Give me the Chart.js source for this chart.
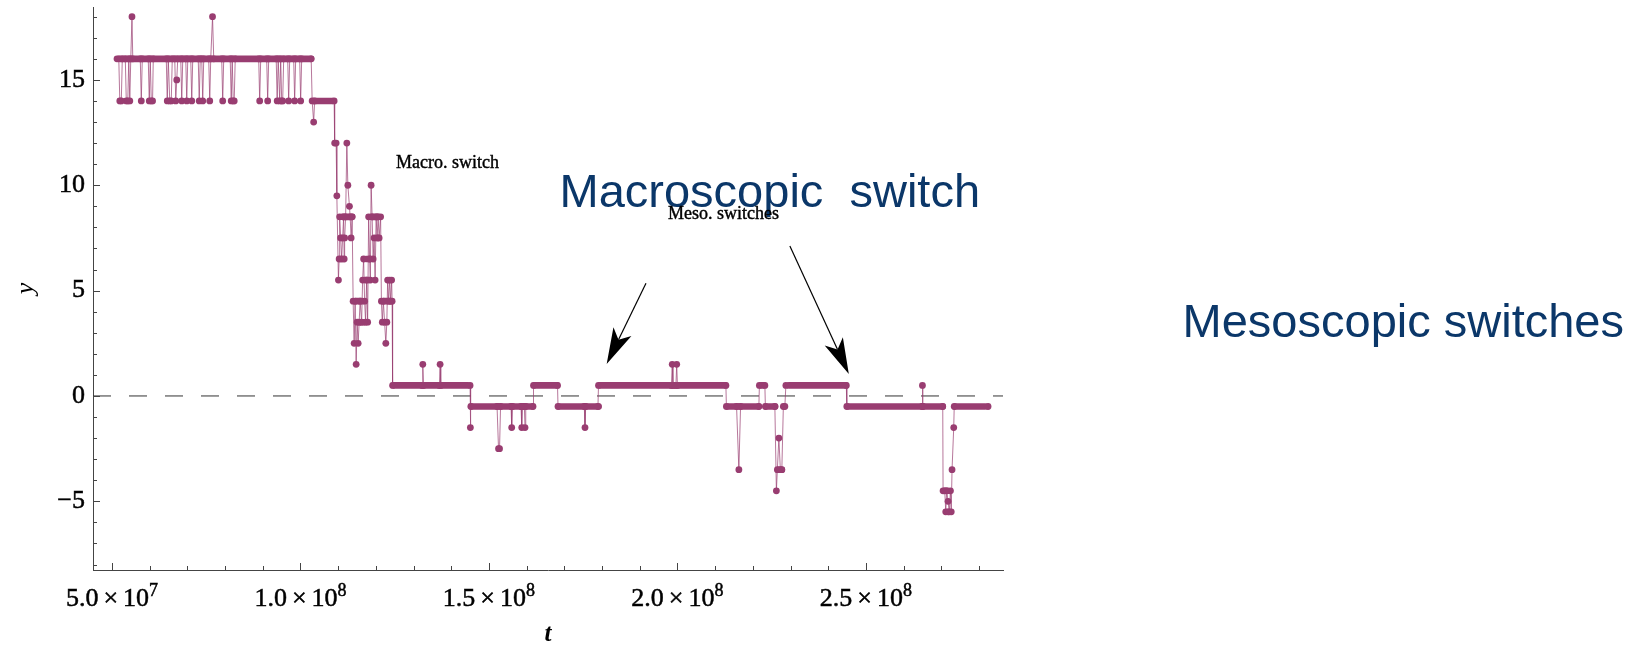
<!DOCTYPE html>
<html>
<head>
<meta charset="utf-8">
<script src="https://cdn.jsdelivr.net/npm/chart.js@4.4.1/dist/chart.umd.min.js"></script>
<style>
  html, body { margin: 0; padding: 0; background: #fff; }
  #wrap { width: 1646px; height: 647px; position: relative; }
</style>
</head>
<body>
<div id="wrap"><canvas id="chart"></canvas></div>
<script>
// trajectory, t in units of 10^6
const tMillions = [
  51.33, 51.80, 52.07, 52.47, 52.73, 53.53, 53.79, 54.19, 54.45, 54.72, 54.98, 55.30, 55.51,
  57.50, 57.77, 58.03, 59.62, 59.89, 60.15, 60.42, 60.76, 60.95, 64.40, 64.66, 64.93, 65.32,
  65.72, 65.99, 66.65, 66.91, 67.18, 67.44, 68.24, 68.50, 68.77, 69.57, 69.83, 70.10, 70.89,
  71.16, 71.42, 72.88, 73.14, 73.41, 73.81, 74.07, 74.34, 75.66, 75.93, 76.19, 76.67, 76.99,
  79.11, 79.37, 79.64, 81.36, 81.63, 81.89, 82.16, 82.42, 82.69, 88.92, 89.18, 89.45, 91.04,
  91.30, 91.57, 93.56, 93.82, 94.09, 94.49, 94.75, 95.02, 95.28, 95.55, 96.61, 96.87, 97.14,
  98.20, 98.46, 98.73, 99.79, 100.05, 100.32, 102.84, 103.10, 103.50, 103.76, 108.93, 109.07,
  109.46, 109.65, 110.07, 110.26, 110.39, 110.66, 110.92, 111.19, 111.45, 111.59, 111.72, 111.98,
  112.30, 112.57, 112.99, 113.18, 113.44, 113.71, 113.97, 114.24, 114.50, 114.77, 115.03, 115.30,
  115.56, 115.83, 116.22, 116.49, 116.75, 117.02, 117.28, 117.55, 117.82, 118.08, 118.35, 118.53,
  118.74, 119.01, 119.27, 119.54, 119.80, 120.07, 120.33, 120.60, 120.86, 121.26, 121.47, 121.71,
  121.98, 122.32, 122.64, 122.91, 123.12, 123.38, 123.65, 123.91, 124.18, 124.31, 124.44,
  132.26, 132.45, 132.63, 136.85, 137.04, 137.22, 144.99, 145.07, 145.20, 152.15, 152.54, 152.81,
  153.08, 155.86, 156.04, 156.23, 158.51, 158.70, 158.88, 159.39, 159.57, 159.76, 161.69, 161.82,
  168.19, 168.32, 175.29, 175.48, 175.66, 178.92, 179.06, 198.41, 198.62, 198.81, 199.60, 199.81,
  200.00, 212.86, 212.99, 215.69, 216.30, 216.75, 221.61, 221.74, 223.20, 223.33, 225.85, 226.25,
  226.51, 226.91, 227.31, 227.70, 228.10, 228.50, 228.77, 244.80, 244.94, 264.90, 265.00, 265.14,
  270.39, 270.47, 270.92, 271.18, 271.45, 271.79, 272.11, 272.43, 272.64, 272.85, 273.30, 273.43,
  282.40
];
const yValues = [
  16, 16, 14, 14, 16, 16, 14, 14, 16, 14, 16, 18, 16,
  16, 14, 16, 16, 14, 16, 14, 14, 16, 16, 14, 16, 14,
  14, 16, 16, 14, 15, 16, 16, 14, 16, 16, 14, 16, 16,
  14, 16, 16, 14, 16, 16, 14, 16, 16, 14, 16, 18, 16,
  16, 14, 16, 16, 14, 16, 14, 14, 16, 16, 14, 16, 16,
  14, 16, 16, 14, 16, 14, 16, 14, 14, 16, 16, 14, 16,
  16, 14, 16, 16, 14, 16, 16, 14, 13, 14, 14, 12,
  12, 9.5, 5.5, 6.5, 8.5, 7.5, 6.5, 7.5, 8.5, 6.5, 7.5, 8.5,
  12, 10, 9, 8.5, 7.5, 8.5, 4.5, 2.5, 4.5, 1.5, 3.5, 2.5,
  3.5, 4.5, 3.5, 5.5, 6.5, 4.5, 3.5, 5.5, 3.5, 8.5, 6.5, 5.5,
  10, 8.5, 6.5, 7.5, 5.5, 8.5, 7.5, 8.5, 7.5, 8.5, 4.5, 3.5,
  4.5, 3.5, 2.5, 3.5, 5.5, 4.5, 5.5, 4.5, 5.5, 4.5, 0.5,
  0.5, 1.5, 0.5, 0.5, 1.5, 0.5, 0.5, -1.5, -0.5, -0.5, -2.5, -2.5,
  -0.5, -0.5, -1.5, -0.5, -0.5, -1.5, -0.5, -0.5, -1.5, -0.5, -0.5, 0.5,
  0.5, -0.5, -0.5, -1.5, -0.5, -0.5, 0.5, 0.5, 1.5, 0.5, 0.5, 1.5,
  0.5, 0.5, -0.5, -0.5, -3.5, -0.5, -0.5, 0.5, 0.5, -0.5, -0.5, -4.5,
  -3.5, -2, -3.5, -3.5, -0.5, -0.5, 0.5, 0.5, -0.5, -0.5, 0.5, -0.5,
  -0.5, -4.5, -4.5, -5.5, -4.5, -5, -5.5, -4.5, -5.5, -3.5, -1.5, -0.5,
  -0.5
];

// stretches where the dots merge into a solid bar (start, end in 10^6, level)
const runStart = [52.13, 103.56, 111.14, 114.69, 115.75, 117.08, 117.50, 118.83, 120.34, 122.12,
  124.77, 145.44, 162.15, 168.77, 179.46, 213.39, 222.22, 223.54, 226.91, 229.56, 245.39, 273.76,
  271.08, 271.72];
const runEnd = [102.80, 108.53, 113.70, 116.35, 116.96, 118.13, 118.55, 120.52, 120.78, 123.85,
  144.37, 161.42, 168.05, 179.10, 212.67, 221.52, 222.85, 225.92, 227.70, 244.66, 270.38, 281.59,
  271.63, 271.90];
const runLevel = [16, 14, 8.5, 4.5, 3.5, 5.5, 6.5, 8.5, 7.5, 4.5,
  0.5, -0.5, 0.5, -0.5, 0.5, -0.5, 0.5, -0.5, -3.5, 0.5, -0.5, -0.5,
  -4.5, -5.5];

const xTicks = [50, 60, 70, 80, 90, 100, 110, 120, 130, 140, 150, 160, 170, 180, 190, 200,
  210, 220, 230, 240, 250, 260, 270, 280];
const xLabelValues = [50, 100, 150, 200, 250];
const xLabelMantissa = ['5.0', '1.0', '1.5', '2.0', '2.5'];
const xLabelExponent = ['7', '8', '8', '8', '8'];
const yTicks = [-8, -7, -6, -5, -4, -3, -2, -1, 0, 1, 2, 3, 4, 5, 6, 7, 8, 9, 10, 11, 12, 13,
  14, 15, 16, 17, 18];
const yLabelValues = [-5, 0, 5, 10, 15];
const yLabels = ['\u22125', '0', '5', '10', '15'];

const tMin = 44.96, tMax = 286.37, yMin = -8.26, yMax = 18.46;

const notes = [
  { text: 'Macro. switch', t: 125.37, y: 10.84, font: '18px "Liberation Serif"', color: '#000', heavy: true },
  { text: 'Macroscopic  switch', t: 168.72, y: 8.97, font: '47px "Liberation Sans"', color: '#0b3769', heavy: false },
  { text: 'Meso. switches', t: 197.48, y: 8.40, font: '18px "Liberation Serif"', color: '#000', heavy: true },
  { text: 'Mesoscopic switches', t: 334.01, y: 2.81, font: '47px "Liberation Sans"', color: '#0b3769', heavy: false }
];
const arrowFrom = [[191.66, 5.35], [229.83, 7.12]];
const arrowTo = [[181.23, 1.52], [245.47, 1.04]];

const purple = '#993d71';

const trajectory = tMillions.map((t, i) => ({ x: t * 1e6, y: yValues[i] }));
const runPoints = [];
runStart.forEach((s, i) => {
  runPoints.push({ x: s * 1e6, y: runLevel[i] });
  runPoints.push({ x: runEnd[i] * 1e6, y: runLevel[i] });
  runPoints.push({ x: runEnd[i] * 1e6, y: null });
});
const zeroLine = [{ x: tMin * 1e6, y: 0 }, { x: tMax * 1e6, y: 0 }];

function heavyText(ctx, text, x, y) {
  ctx.fillText(text, x, y);
  ctx.strokeText(text, x, y);
}

const decorations = {
  id: 'decorations',
  afterDraw(chart) {
    const ctx = chart.ctx;
    const xs = chart.scales.x, ys = chart.scales.y;
    const area = chart.chartArea;
    ctx.save();

    // inward ticks
    ctx.strokeStyle = '#444';
    ctx.lineWidth = 1;
    xTicks.forEach(v => {
      const px = Math.round(xs.getPixelForValue(v * 1e6)) + 0.5;
      const len = v % 50 === 0 ? 7 : 4;
      ctx.beginPath();
      ctx.moveTo(px, area.bottom);
      ctx.lineTo(px, area.bottom - len);
      ctx.stroke();
    });
    yTicks.forEach(v => {
      const py = Math.round(ys.getPixelForValue(v)) + 0.5;
      const len = v % 5 === 0 ? 7 : 4;
      ctx.beginPath();
      ctx.moveTo(area.left, py);
      ctx.lineTo(area.left + len, py);
      ctx.stroke();
    });

    // x tick labels  a.b x 10^n
    ctx.fillStyle = '#000';
    ctx.strokeStyle = '#000';
    ctx.lineWidth = 0.5;
    ctx.textBaseline = 'alphabetic';
    ctx.textAlign = 'left';
    const base = area.bottom + 36;
    xLabelValues.forEach((v, i) => {
      const big = '26px "Liberation Serif"', small = '18px "Liberation Serif"';
      ctx.font = big;
      const wm = ctx.measureText(xLabelMantissa[i]).width;
      const wx = ctx.measureText('\u00d7').width;
      const wt = ctx.measureText('10').width;
      ctx.font = small;
      const we = ctx.measureText(xLabelExponent[i]).width;
      const gap = 5;
      const total = wm + gap + wx + gap + wt + we;
      let x = xs.getPixelForValue(v * 1e6) - total / 2;
      ctx.font = big;
      heavyText(ctx, xLabelMantissa[i], x, base); x += wm + gap;
      heavyText(ctx, '\u00d7', x, base); x += wx + gap;
      heavyText(ctx, '10', x, base); x += wt;
      ctx.font = small;
      heavyText(ctx, xLabelExponent[i], x, base - 10);
    });

    // annotations
    notes.forEach(n => {
      ctx.font = n.font;
      ctx.fillStyle = n.color;
      ctx.strokeStyle = n.color;
      ctx.lineWidth = 0.4;
      const px = xs.getPixelForValue(n.t * 1e6), py = ys.getPixelForValue(n.y);
      if (n.heavy) heavyText(ctx, n.text, px, py);
      else ctx.fillText(n.text, px, py);
    });

    ctx.strokeStyle = '#000';
    ctx.fillStyle = '#000';
    ctx.lineWidth = 1.2;
    arrowFrom.forEach((f, i) => {
      const x0 = xs.getPixelForValue(f[0] * 1e6), y0 = ys.getPixelForValue(f[1]);
      const x1 = xs.getPixelForValue(arrowTo[i][0] * 1e6), y1 = ys.getPixelForValue(arrowTo[i][1]);
      const a = Math.atan2(y1 - y0, x1 - x0);
      const ux = Math.cos(a), uy = Math.sin(a);
      const L = 36, W = 10, notch = 27;
      ctx.beginPath();
      ctx.moveTo(x0, y0);
      ctx.lineTo(x1 - ux * notch, y1 - uy * notch);
      ctx.stroke();
      ctx.beginPath();
      ctx.moveTo(x1, y1);
      ctx.lineTo(x1 - ux * L - uy * W, y1 - uy * L + ux * W);
      ctx.lineTo(x1 - ux * notch, y1 - uy * notch);
      ctx.lineTo(x1 - ux * L + uy * W, y1 - uy * L - ux * W);
      ctx.closePath();
      ctx.fill();
    });
    ctx.restore();
  }
};

Chart.defaults.font.family = '"Liberation Serif"';
Chart.defaults.color = '#000';

new Chart(document.getElementById('chart'), {
  type: 'line',
  data: {
    datasets: [
      {
        data: runPoints,
        borderColor: purple,
        borderWidth: 6.6,
        borderCapStyle: 'round',
        borderJoinStyle: 'round',
        pointRadius: 0,
        spanGaps: false,
        tension: 0
      },
      {
        data: trajectory,
        borderColor: 'rgba(153, 61, 113, 0.7)',
        borderWidth: 1,
        pointRadius: 3.4,
        pointHoverRadius: 3.4,
        pointBackgroundColor: purple,
        pointBorderWidth: 0,
        tension: 0
      },
      {
        data: zeroLine,
        borderColor: '#333',
        borderWidth: 1,
        borderDash: [18, 18],
        pointRadius: 0
      }
    ]
  },
  options: {
    animation: false,
    responsive: true,
    maintainAspectRatio: false,
    layout: { padding: { left: 0, right: 643, top: 7, bottom: 0 } },
    plugins: { legend: { display: false }, tooltip: { enabled: false } },
    scales: {
      x: {
        type: 'linear',
        min: tMin * 1e6,
        max: tMax * 1e6,
        afterFit: s => { s.height = 77; s.paddingLeft = 0; s.paddingRight = 0; },
        grid: { display: true, drawOnChartArea: false, drawTicks: false },
        border: { display: true, color: '#444', width: 1 },
        ticks: { display: false },
        title: {
          display: true,
          text: 't',
          color: '#000',
          font: { family: '"Liberation Serif"', size: 25, style: 'italic', weight: 'bold', lineHeight: 1 },
          padding: { top: 0, bottom: 0 }
        }
      },
      y: {
        type: 'linear',
        min: yMin,
        max: yMax,
        afterBuildTicks: s => { s.ticks = yTicks.map(v => ({ value: v })); },
        afterFit: s => { s.width = 93; s.paddingTop = 0; s.paddingBottom = 0; },
        grid: { display: true, drawOnChartArea: false, drawTicks: false },
        border: { display: true, color: '#444', width: 1 },
        ticks: {
          autoSkip: false,
          padding: 8,
          color: '#000',
          textStrokeColor: '#000',
          textStrokeWidth: 0.5,
          font: { family: '"Liberation Serif"', size: 26 },
          callback: v => {
            const k = yLabelValues.indexOf(v);
            return k >= 0 ? yLabels[k] : '';
          }
        },
        title: {
          display: true,
          text: 'y',
          color: '#000',
          font: { family: '"Liberation Serif"', size: 26, style: 'italic', lineHeight: 1 },
          padding: { top: 13, bottom: 0 }
        }
      }
    }
  },
  plugins: [decorations]
});
</script>
</body>
</html>
